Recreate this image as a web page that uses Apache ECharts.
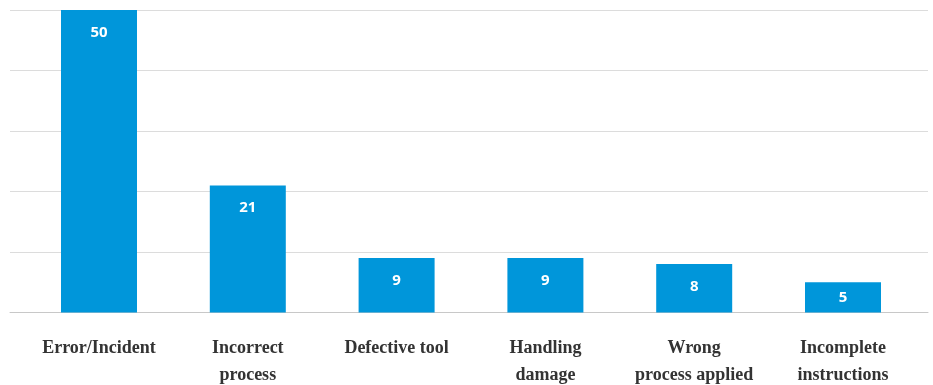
<!DOCTYPE html>
<html>
<head>
<meta charset="utf-8">
<script src="https://cdn.jsdelivr.net/npm/echarts@6/dist/echarts.min.js"></script>
<style>
  html, body { margin: 0; padding: 0; background: #fff; }
  #chart { width: 933px; height: 385px; }
</style>
</head>
<body>
<div id="chart"></div>
<script>
var categories = ['Error/Incident', 'Incorrect\nprocess', 'Defective tool', 'Handling\ndamage', 'Wrong\nprocess applied', 'Incomplete\ninstructions'];
var counts = [50, 21, 9, 9, 8, 5];
var yMin = 0;
var yMax = 50;
var yStep = 10;

var myChart = echarts.init(document.getElementById('chart'));

// short bars get their label centred instead of pinned to the top
var barData = counts.map(function (v) {
    if (v < 6) {
        return { value: v, label: { position: 'inside' } };
    }
    return v;
});

var option = {
    animation: false,
    grid: [
        // gridlines span a bit wider than the bars
        { left: 10, right: 5, top: 10, bottom: 72.5, outerBoundsMode: 'none' },
        { left: 24.6, right: 15.6, top: 10, bottom: 72.5, outerBoundsMode: 'none' }
    ],
    xAxis: [
        {
            gridIndex: 0,
            type: 'category',
            data: categories,
            axisLine: { show: true, lineStyle: { color: '#c8c8c8', width: 1 } },
            axisTick: { show: false },
            axisLabel: { show: false }
        },
        {
            gridIndex: 1,
            type: 'category',
            data: categories,
            axisLine: { show: false },
            axisTick: { show: false },
            axisLabel: {
                interval: 0,
                hideOverlap: false,
                margin: 22,
                fontFamily: 'Liberation Serif',
                fontWeight: 'bold',
                fontSize: 18,
                lineHeight: 27,
                color: '#333'
            }
        }
    ],
    yAxis: [
        {
            gridIndex: 0,
            type: 'value',
            min: yMin,
            max: yMax,
            interval: yStep,
            axisLine: { show: false },
            axisTick: { show: false },
            axisLabel: { show: false },
            splitLine: { lineStyle: { color: '#dcdcdc', width: 1 } }
        },
        {
            gridIndex: 1,
            type: 'value',
            min: yMin,
            max: yMax,
            interval: yStep,
            axisLine: { show: false },
            axisTick: { show: false },
            axisLabel: { show: false },
            splitLine: { show: false }
        }
    ],
    series: [
        {
            type: 'bar',
            xAxisIndex: 1,
            yAxisIndex: 1,
            data: barData,
            barWidth: 76,
            itemStyle: { color: '#0096da' },
            label: {
                show: true,
                position: 'insideTop',
                distance: 15,
                color: '#fff',
                fontFamily: 'Noto Sans',
                fontWeight: 'bold',
                fontSize: 15
            }
        }
    ]
};

myChart.setOption(option);
</script>
</body>
</html>
